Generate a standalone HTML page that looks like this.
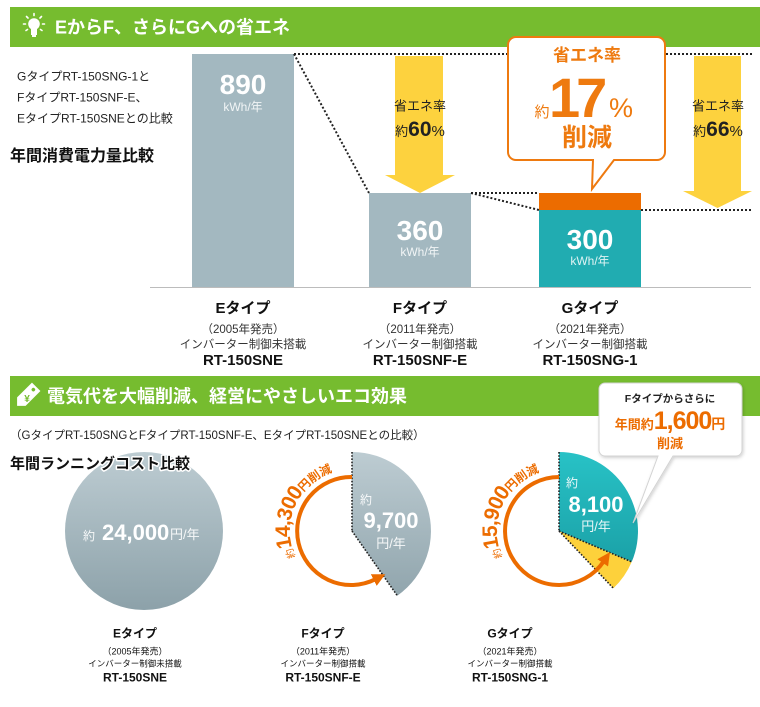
<!DOCTYPE html>
<html lang="ja">
<head>
<meta charset="utf-8">
<style>
  html,body{margin:0;padding:0;background:#fff;}
  body{width:760px;height:707px;overflow:hidden;}
  svg{display:block;font-family:"Liberation Sans","Noto Sans CJK JP",sans-serif;}
</style>
</head>
<body>
<svg width="760" height="707" viewBox="0 0 760 707" xmlns="http://www.w3.org/2000/svg">
  <defs>
    <linearGradient id="gg" gradientUnits="userSpaceOnUse" x1="0" y1="452" x2="0" y2="611">
      <stop offset="0" stop-color="#bdccd2"/>
      <stop offset="1" stop-color="#8ca1a9"/>
    </linearGradient>
    <linearGradient id="tg" gradientUnits="userSpaceOnUse" x1="0" y1="452" x2="0" y2="611">
      <stop offset="0" stop-color="#28c2c6"/>
      <stop offset="1" stop-color="#15939a"/>
    </linearGradient>
    <marker id="ah" markerUnits="userSpaceOnUse" markerWidth="13" markerHeight="13" refX="2" refY="6.5" orient="auto">
      <path d="M0,0 L13,6.5 L0,13 z" fill="#ec6c00"/>
    </marker>
    <filter id="sh" x="-10%" y="-10%" width="130%" height="130%">
      <feDropShadow dx="1" dy="1.5" stdDeviation="1.5" flood-color="#000" flood-opacity="0.18"/>
    </filter>
    <path id="pf" d="M299.4,563.9 A62,62 0 0,1 349.8,469.0"/>
    <path id="pg" d="M506.4,563.9 A62,62 0 0,1 556.8,469.0"/>
  </defs>

  <!-- ===== Header 1 ===== -->
  <rect x="10" y="7" width="750" height="40" fill="#76bc2f"/>
  <g fill="#fff" stroke="#fff">
    <circle cx="34" cy="24" r="5.8" stroke="none"/>
    <rect x="31" y="28" width="6" height="7" stroke="none"/>
    <rect x="32" y="35" width="4" height="2" stroke="none"/>
    <g stroke-width="1.6" stroke-linecap="round">
      <line x1="34" y1="13.5" x2="34" y2="15.5"/>
      <line x1="26.5" y1="16.5" x2="28" y2="18"/>
      <line x1="41.5" y1="16.5" x2="40" y2="18"/>
      <line x1="23.5" y1="24" x2="25.5" y2="24"/>
      <line x1="42.5" y1="24" x2="44.5" y2="24"/>
      <line x1="26" y1="30.5" x2="27.5" y2="29.5"/>
      <line x1="42" y1="30.5" x2="40.5" y2="29.5"/>
    </g>
  </g>
  <text x="55" y="33.5" font-size="18" font-weight="bold" fill="#fff">EからF、さらにGへの省エネ</text>

  <!-- left notes -->
  <g font-size="12" fill="#222">
    <text x="17" y="80.5">GタイプRT-150SNG-1と</text>
    <text x="17" y="101.5">FタイプRT-150SNF-E、</text>
    <text x="17" y="122.5">EタイプRT-150SNEとの比較</text>
  </g>
  <text x="10" y="161" font-size="16" font-weight="bold" fill="#111">年間消費電力量比較</text>

  <!-- bars -->
  <rect x="192" y="54" width="102" height="233" fill="#a3b8c0"/>
  <rect x="369" y="193" width="102" height="94" fill="#a3b8c0"/>
  <rect x="539" y="193" width="102" height="17" fill="#ec6c00"/>
  <rect x="539" y="210" width="102" height="77" fill="#21acb1"/>
  <line x1="150" y1="287.5" x2="751" y2="287.5" stroke="#bcbcbc" stroke-width="1"/>

  <!-- yellow arrows -->
  <polygon points="395,56 443,56 443,175 455,175 420,193 385,175 395,175" fill="#fdd23e"/>
  <polygon points="694,56 741,56 741,191 752,191 717.5,208 683,191 694,191" fill="#fdd23e"/>

  <!-- dotted lines -->
  <g stroke="#222" stroke-width="2" stroke-dasharray="2,2" fill="none">
    <line x1="294" y1="54" x2="752" y2="54"/>
    <line x1="294" y1="54" x2="369" y2="193"/>
    <line x1="471" y1="193" x2="539" y2="193"/>
    <line x1="471" y1="193" x2="539" y2="210"/>
    <line x1="641" y1="210" x2="752" y2="210"/>
  </g>

  <!-- arrow texts -->
  <g fill="#222" text-anchor="middle">
    <text x="420" y="110.7" font-size="13">省エネ率</text>
    <text x="420" y="136"><tspan font-size="13">約</tspan><tspan font-size="21" font-weight="bold">60</tspan><tspan font-size="15">%</tspan></text>
    <text x="718" y="110.7" font-size="13">省エネ率</text>
    <text x="718" y="136"><tspan font-size="13">約</tspan><tspan font-size="21" font-weight="bold">66</tspan><tspan font-size="15">%</tspan></text>
  </g>

  <!-- bubble top -->
  <path d="M516,37 H657 A8,8 0 0 1 665,45 V152 A8,8 0 0 1 657,160 H614 L592,189 L593,160 H516 A8,8 0 0 1 508,152 V45 A8,8 0 0 1 516,37 Z" fill="#fff" stroke="#ee7a10" stroke-width="2"/>
  <g fill="#ee7a0f" font-weight="bold">
    <text x="587" y="61" font-size="17" text-anchor="middle">省エネ率</text>
    <text x="542" y="117" font-size="15" text-anchor="middle" font-weight="normal">約</text>
    <text x="549" y="117" font-size="56" letter-spacing="-4">17</text>
    <text x="609" y="117" font-size="27" font-weight="normal">%</text>
    <text x="587" y="146" font-size="25" text-anchor="middle">削減</text>
  </g>

  <!-- bar values -->
  <g fill="#fff" text-anchor="middle">
    <text x="243" y="94" font-size="28" font-weight="bold">890</text>
    <text x="243" y="111" font-size="12" fill-opacity="0.85">kWh/年</text>
    <text x="420" y="240" font-size="28" font-weight="bold">360</text>
    <text x="420" y="256" font-size="12" fill-opacity="0.85">kWh/年</text>
    <text x="590" y="249" font-size="28" font-weight="bold">300</text>
    <text x="590" y="265" font-size="12" fill-opacity="0.85">kWh/年</text>
  </g>

  <!-- top category labels -->
  <g fill="#111" text-anchor="middle">
    <text x="243" y="313" font-size="15" font-weight="bold">Eタイプ</text>
    <text x="243" y="333" font-size="11.5" fill="#333">（2005年発売）</text>
    <text x="243" y="348" font-size="11.5" fill="#333">インバーター制御未搭載</text>
    <text x="243" y="365" font-size="15" font-weight="bold">RT-150SNE</text>

    <text x="420" y="313" font-size="15" font-weight="bold">Fタイプ</text>
    <text x="420" y="333" font-size="11.5" fill="#333">（2011年発売）</text>
    <text x="420" y="348" font-size="11.5" fill="#333">インバーター制御搭載</text>
    <text x="420" y="365" font-size="15" font-weight="bold">RT-150SNF-E</text>

    <text x="590" y="313" font-size="15" font-weight="bold">Gタイプ</text>
    <text x="590" y="333" font-size="11.5" fill="#333">（2021年発売）</text>
    <text x="590" y="348" font-size="11.5" fill="#333">インバーター制御搭載</text>
    <text x="590" y="365" font-size="15" font-weight="bold">RT-150SNG-1</text>
  </g>

  <!-- ===== Header 2 ===== -->
  <rect x="10" y="376" width="750" height="40" fill="#76bc2f"/>
  <g transform="translate(27,396) rotate(45)">
    <path d="M-6,-13 H6 V8 L0,14 L-6,8 Z" fill="#fff"/>
    <circle cx="0" cy="-9" r="1.8" fill="#76bc2f"/>
    <text x="0" y="6" font-size="10" font-weight="bold" fill="#76bc2f" text-anchor="middle" transform="rotate(-45)">¥</text>
  </g>
  <text x="47" y="402.5" font-size="18" font-weight="bold" fill="#fff">電気代を大幅削減、経営にやさしいエコ効果</text>

  <text x="10" y="439" font-size="11.5" fill="#222">（GタイプRT-150SNGとFタイプRT-150SNF-E、EタイプRT-150SNEとの比較）</text>

  <!-- E circle -->
  <circle cx="144" cy="531" r="79" fill="url(#gg)"/>
  <text x="10" y="468.5" font-size="15" font-weight="bold" fill="#111" stroke="#fff" stroke-width="3" paint-order="stroke" stroke-linejoin="round">年間ランニングコスト比較</text>
  <g fill="#fff">
    <text x="83" y="540" font-size="12" fill-opacity="0.9">約</text>
    <text x="102" y="540" font-size="22" font-weight="bold">24,000</text>
    <text x="170" y="539" font-size="13" fill-opacity="0.9">円/年</text>
  </g>

  <!-- F pie -->
  <path d="M352,531 L352,452 A79,79 0 0,1 397.3,595.7 Z" fill="url(#gg)"/>
  <g stroke="#222" stroke-width="1.6" stroke-dasharray="1.6,1.6" fill="none">
    <line x1="352" y1="452" x2="352" y2="531"/>
    <line x1="352" y1="531" x2="397.3" y2="595.7"/>
  </g>
  <g fill="#fff">
    <text x="360" y="504" font-size="12" fill-opacity="0.9">約</text>
    <text x="391" y="528" font-size="22" font-weight="bold" text-anchor="middle">9,700</text>
    <text x="391" y="548" font-size="13" text-anchor="middle" fill-opacity="0.9">円/年</text>
  </g>
  <!-- F arc arrow -->
  <path d="M352,477 A54,54 0 1,0 375.5,579.2" fill="none" stroke="#ec6c00" stroke-width="4" marker-end="url(#ah)"/>
  <text fill="#ec6c00" font-weight="bold"><textPath href="#pf" startOffset="8"><tspan font-size="10" font-weight="normal">約</tspan><tspan font-size="21" letter-spacing="-1">14,300</tspan><tspan font-size="12">円削減</tspan></textPath></text>

  <!-- G pie -->
  <path d="M559,531 L559,452 A79,79 0 0,1 631.7,561.9 Z" fill="url(#tg)"/>
  <path d="M559,531 L631.7,561.9 A79,79 0 0,1 613.4,588.3 Z" fill="#fdd13b"/>
  <g stroke="#222" stroke-width="1.6" stroke-dasharray="1.6,1.6" fill="none">
    <line x1="559" y1="452" x2="559" y2="531"/>
    <line x1="559" y1="531" x2="631.7" y2="561.9"/>
    <line x1="559" y1="531" x2="613.4" y2="588.3"/>
  </g>
  <g fill="#fff">
    <text x="566" y="487" font-size="12" fill-opacity="0.9">約</text>
    <text x="596" y="512" font-size="22" font-weight="bold" text-anchor="middle">8,100</text>
    <text x="596" y="531" font-size="13" text-anchor="middle" fill-opacity="0.9">円/年</text>
  </g>
  <!-- G arc arrow -->
  <path d="M559,477 A54,54 0 1,0 603.8,561.2" fill="none" stroke="#ec6c00" stroke-width="4" marker-end="url(#ah)"/>
  <text fill="#ec6c00" font-weight="bold"><textPath href="#pg" startOffset="8"><tspan font-size="10" font-weight="normal">約</tspan><tspan font-size="21" letter-spacing="-1">15,900</tspan><tspan font-size="12">円削減</tspan></textPath></text>

  <!-- callout bubble 2 -->
  <path d="M605,383 H736 A6,6 0 0 1 742,389 V450 A6,6 0 0 1 736,456 H673 L633,523 L658,456 H605 A6,6 0 0 1 599,450 V389 A6,6 0 0 1 605,383 Z" fill="#fff" stroke="#d3d3d3" stroke-width="1" filter="url(#sh)"/>
  <text x="670" y="402" font-size="10.5" font-weight="bold" fill="#222" text-anchor="middle">Fタイプからさらに</text>
  <text x="670" y="429" text-anchor="middle" fill="#ec6c00" font-weight="bold"><tspan font-size="13">年間約</tspan><tspan font-size="25" letter-spacing="-1">1,600</tspan><tspan font-size="14">円</tspan></text>
  <text x="670" y="448" font-size="13" font-weight="bold" fill="#ec6c00" text-anchor="middle">削減</text>

  <!-- bottom labels -->
  <g fill="#111" text-anchor="middle">
    <text x="135" y="637.5" font-size="12" font-weight="bold">Eタイプ</text>
    <text x="135" y="654.5" font-size="9">（2005年発売）</text>
    <text x="135" y="666.5" font-size="8.5">インバーター制御未搭載</text>
    <text x="135" y="681.5" font-size="12" font-weight="bold">RT-150SNE</text>

    <text x="323" y="637.5" font-size="12" font-weight="bold">Fタイプ</text>
    <text x="323" y="654.5" font-size="9">（2011年発売）</text>
    <text x="323" y="666.5" font-size="8.5">インバーター制御搭載</text>
    <text x="323" y="681.5" font-size="12" font-weight="bold">RT-150SNF-E</text>

    <text x="510" y="637.5" font-size="12" font-weight="bold">Gタイプ</text>
    <text x="510" y="654.5" font-size="9">（2021年発売）</text>
    <text x="510" y="666.5" font-size="8.5">インバーター制御搭載</text>
    <text x="510" y="681.5" font-size="12" font-weight="bold">RT-150SNG-1</text>
  </g>
</svg>
</body>
</html>
